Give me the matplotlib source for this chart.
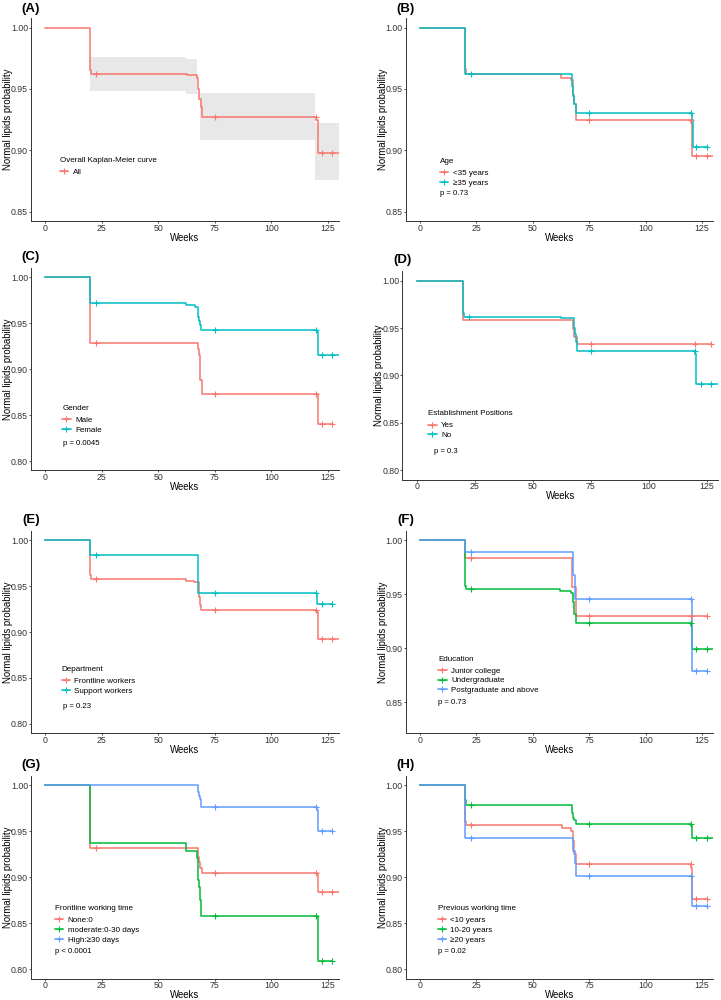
import numpy as np
import matplotlib
matplotlib.use("Agg")
import matplotlib.pyplot as plt
from matplotlib.lines import Line2D

plt.rcParams['font.family'] = ['Liberation Sans', 'DejaVu Sans']

RED = "#F8766D"
TEAL = "#00BFC4"
GREEN = "#00BA38"
BLUE = "#619CFF"
BAND = "#e8e8e8"

CENSOR = [22.5, 75, 120, 122.5, 127]

# ---- (A) overall ----
A_T = [0, 20, 20.3, 63, 67, 67.8, 68.3, 68.8, 69.2, 120, 120.5]
A_S = [1, 0.965, 0.962, 0.961, 0.959, 0.950, 0.942, 0.935, 0.927, 0.925, 0.898]
A_HI_T = [19.9, 62.3, 67.1, 119.4, 130.2]
A_HI = [0.976, 0.974, 0.947, 0.922, 0.922]
A_LO_T = [19.9, 62.3, 68.6, 119.4, 130.2]
A_LO = [0.9485, 0.946, 0.908, 0.876, 0.876]

# ---- (B) age ----
B1_T = [0, 20, 20.3, 62.5, 67, 68, 68.5, 69, 69.3, 120, 120.5]
B1_S = [1, 0.966, 0.962, 0.959, 0.957, 0.945, 0.938, 0.930, 0.925, 0.922, 0.895]
B2_T = [0, 20, 67.5, 68, 68.5, 69.3, 120.5, 121]
B2_S = [1, 0.962, 0.952, 0.944, 0.938, 0.930, 0.925, 0.903]

# ---- (C) gender ----
C1_T = [0, 20, 67.8, 68.2, 68.7, 69.2, 120.5]
C1_S = [1, 0.929, 0.922, 0.915, 0.888, 0.873, 0.840]
C2_T = [0, 20, 62.5, 66.5, 67.5, 68, 68.5, 69, 120.3, 120.7]
C2_S = [1, 0.972, 0.970, 0.968, 0.957, 0.952, 0.948, 0.943, 0.940, 0.915]

# ---- (D) establishment positions ----
D1_T = [0, 20, 67.5, 68, 69]
D1_S = [1, 0.958, 0.949, 0.941, 0.933]
D2_T = [0, 20, 20.3, 62, 67.8, 68.3, 68.8, 69.3, 120, 120.5]
D2_S = [1, 0.966, 0.962, 0.961, 0.950, 0.944, 0.935, 0.926, 0.923, 0.891]

# ---- (E) department ----
E1_T = [0, 20, 20.3, 62.5, 66, 68, 68.3, 68.7, 69, 120, 120.5]
E1_S = [1, 0.962, 0.958, 0.956, 0.954, 0.945, 0.938, 0.930, 0.924, 0.922, 0.892]
E2_T = [0, 20, 67.5, 120.3]
E2_S = [1, 0.984, 0.943, 0.931]

# ---- (F) education ----
F1_T = [0, 20, 67.5, 69]
F1_S = [1, 0.984, 0.957, 0.930]
F2_T = [0, 20, 20.3, 62.3, 67, 68, 68.5, 69, 120, 120.5]
F2_S = [1, 0.958, 0.955, 0.953, 0.951, 0.943, 0.932, 0.923, 0.921, 0.899]
F3_T = [0, 20, 67.8, 68.8, 120.5]
F3_S = [1, 0.989, 0.968, 0.946, 0.879]

# ---- (G) frontline working time ----
G1_T = [0, 20, 67.7, 68.2, 68.7, 69.3, 120.5]
G1_S = [1, 0.932, 0.922, 0.917, 0.910, 0.905, 0.884]
G2_T = [0, 20, 62.5, 67, 67.8, 68.3, 68.7, 69, 120.5]
G2_S = [1, 0.937, 0.929, 0.921, 0.897, 0.890, 0.875, 0.858, 0.809]
G3_T = [0, 67.5, 68, 68.5, 69, 120.3, 120.7]
G3_S = [1, 0.993, 0.989, 0.985, 0.977, 0.973, 0.951]

# ---- (H) previous working time ----
H1_T = [0, 20, 20.3, 62.8, 67, 68, 68.5, 69, 120.3, 120.7]
H1_S = [1, 0.961, 0.957, 0.954, 0.951, 0.940, 0.925, 0.915, 0.910, 0.877]
H2_T = [0, 20, 20.3, 67.5, 68, 68.5, 69, 120, 120.5]
H2_S = [1, 0.984, 0.979, 0.970, 0.965, 0.962, 0.958, 0.956, 0.943]
H3_T = [0, 20, 68, 68.6, 69.3, 120.5]
H3_S = [1, 0.943, 0.929, 0.916, 0.902, 0.869]

# (times, surv, end, censor times, colour, label)
PANELS = [
    dict(tag="(A)", box=(31, 18.3, 339, 220.9), ylim=(0.8425, 1.0075), yticks=[0.85, 0.90, 0.95, 1.00],
         title="Overall Kaplan-Meier curve", leg=(60, 160.3), p=None,
         curves=[(A_T, A_S, 131, CENSOR, RED, "All")]),
    dict(tag="(B)", box=(405.7, 18.3, 713.3, 220.9), ylim=(0.8425, 1.0075), yticks=[0.85, 0.90, 0.95, 1.00],
         title="Age", leg=(440, 161.7), p=("p = 0.73", 440, 193.3),
         curves=[(B1_T, B1_S, 131, [75, 120, 122.5, 127], RED, "<35 years"),
                 (B2_T, B2_S, 127, CENSOR, TEAL, "\u226535 years")]),
    dict(tag="(C)", box=(31, 268.1, 339, 470.2), ylim=(0.79, 1.01), yticks=[0.80, 0.85, 0.90, 0.95, 1.00],
         title="Gender", leg=(62.3, 408.7), p=("p = 0.0045", 63.3, 443),
         curves=[(C1_T, C1_S, 127, CENSOR, RED, "Male"),
                 (C2_T, C2_S, 131, CENSOR, TEAL, "Female")]),
    dict(tag="(D)", box=(402.3, 271.2, 718.3, 479.5), ylim=(0.79, 1.01), yticks=[0.80, 0.85, 0.90, 0.95, 1.00],
         title="Establishment Positions", leg=(428.3, 414), p=("p = 0.3", 434, 451.3),
         curves=[(D1_T, D1_S, 127, [75, 120, 127], RED, "Yes"),
                 (D2_T, D2_S, 131, CENSOR, TEAL, "No")]),
    dict(tag="(E)", box=(31, 531.1, 339, 733), ylim=(0.79, 1.01), yticks=[0.80, 0.85, 0.90, 0.95, 1.00],
         title="Department", leg=(61.7, 669.7), p=("p = 0.23", 63.3, 706),
         curves=[(E1_T, E1_S, 131, CENSOR, RED, "Frontline workers"),
                 (E2_T, E2_S, 127, CENSOR, TEAL, "Support workers")]),
    dict(tag="(F)", box=(405.7, 531.1, 713.3, 733), ylim=(0.8215, 1.0085), yticks=[0.85, 0.90, 0.95, 1.00],
         title="Education", leg=(438.3, 659.3), p=("p = 0.73", 438.3, 702.3),
         curves=[(F1_T, F1_S, 127, [22.5, 75, 120, 127], RED, "Junior college"),
                 (F2_T, F2_S, 131, CENSOR, GREEN, "Undergraduate"),
                 (F3_T, F3_S, 127, CENSOR, BLUE, "Postgraduate and above")]),
    dict(tag="(G)", box=(31, 776.3, 339, 978.5), ylim=(0.79, 1.01), yticks=[0.80, 0.85, 0.90, 0.95, 1.00],
         title="Frontline working time", leg=(55, 908.7), p=("p < 0.0001", 55, 951.3),
         curves=[(G1_T, G1_S, 131, CENSOR, RED, "None:0"),
                 (G2_T, G2_S, 127, [75, 120, 122.5, 127], GREEN, "moderate:0-30 days"),
                 (G3_T, G3_S, 127, [75, 120, 122.5, 127], BLUE, "High:\u226530 days")]),
    dict(tag="(H)", box=(405.7, 776.3, 713.3, 978.5), ylim=(0.79, 1.01), yticks=[0.80, 0.85, 0.90, 0.95, 1.00],
         title="Previous working time", leg=(437.7, 908.7), p=("p = 0.02", 437.7, 951.7),
         curves=[(H1_T, H1_S, 127, CENSOR, RED, "<10 years"),
                 (H2_T, H2_S, 131, CENSOR, GREEN, "10-20 years"),
                 (H3_T, H3_S, 127, CENSOR, BLUE, "\u226520 years")]),
]

W, H = 721, 1000
fig = plt.figure(figsize=(W / 100, H / 100), dpi=100)


def fx(x):
    return x / W


def fy(y):
    return 1 - y / H


def step_value(times, surv, t):
    # value just before t (censor mark sits on the pre-drop level)
    i = np.searchsorted(times, t, side="left") - 1
    return surv[max(i, 0)]


for pn in PANELS:
    l, t, r, b = pn["box"]
    ax = fig.add_axes([fx(l), fy(b), (r - l) / W, (b - t) / H])

    if pn["tag"] == "(A)":
        xs = np.union1d(A_HI_T, A_LO_T)
        hi = [step_value(A_HI_T, A_HI, x + 1e-6) for x in xs]
        lo = [step_value(A_LO_T, A_LO, x + 1e-6) for x in xs]
        ax.fill_between(xs, lo, hi, step="post", color=BAND, lw=0, zorder=1)

    handles = []
    for times, surv, end, cens, col, lab in pn["curves"]:
        ax.step(list(times) + [end], list(surv) + [surv[-1]], where="post",
                color=col, lw=1.1, zorder=3)
        cy = [step_value(times, surv, c) for c in cens]
        ax.plot(cens, cy, ls="none", marker="+", color=col, ms=4, mew=0.8, zorder=4)
        handles.append(Line2D([], [], color=col, lw=1.1, marker="+", ms=4, mew=0.8))

    ax.set_xlim(-6.2, 130.0)
    ax.set_ylim(*pn["ylim"])
    ax.set_xticks([0, 25, 50, 75, 100, 125])
    ax.set_yticks(pn["yticks"])
    ax.set_yticklabels([f"{v:.2f}" for v in pn["yticks"]])
    for s in ["top", "right"]:
        ax.spines[s].set_visible(False)
    for s in ["left", "bottom"]:
        ax.spines[s].set_color("#333333")
        ax.spines[s].set_linewidth(0.7)
    ax.tick_params(labelsize=6.3, length=1.5, width=0.6, pad=0.6,
                   color="#333333", labelcolor="#333333")
    ax.set_xlabel("Weeks", fontsize=6.9, labelpad=0)
    ax.set_ylabel("Normal lipids probability", fontsize=6.9, labelpad=-1.5)

    # legend title as its own text, entries below it
    lx, ly = pn["leg"]
    fig.text(fx(lx), fy(ly), pn["title"], fontsize=5.75, ha="left", va="center")
    ax.legend(handles, [c[5] for c in pn["curves"]],
              loc="upper left", bbox_to_anchor=(fx(lx), fy(ly + 7.9)),
              bbox_transform=fig.transFigure, frameon=False,
              fontsize=5.75, borderpad=0, borderaxespad=0, handlelength=1.05,
              handletextpad=0.55, labelspacing=0.26)

    if pn["p"]:
        txt, px, py = pn["p"]
        fig.text(fx(px), fy(py), txt, fontsize=5.6, ha="left", va="center")

    fig.text(fx(l), fy(t - 9.5 if pn["tag"] in ("(A)", "(B)") else t - 11), pn["tag"],
             fontsize=9.5, fontweight="bold", ha="center", va="center")

fig.savefig("out.png", dpi=100)
